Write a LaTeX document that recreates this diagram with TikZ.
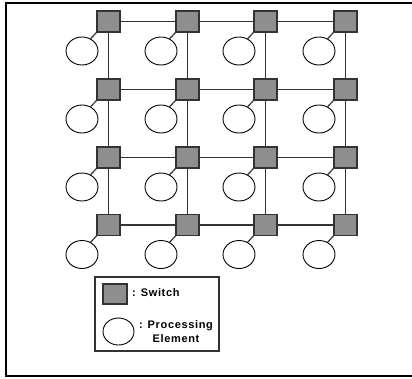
\documentclass[tikz,border=0pt]{standalone}
\usepackage{fontspec}
\setmainfont{Liberation Sans}
\usetikzlibrary{shapes.geometric}
\definecolor{swfill}{HTML}{8E8E8E}
\definecolor{wire}{HTML}{333333}
\begin{document}
\begin{tikzpicture}[x=1pt,y=-1pt,
  switchbox/.style={draw=wire,fill=swfill,line width=1.1pt,minimum width=23pt,minimum height=21pt,inner sep=0pt},
  pe/.style={draw=black,ellipse,line width=0.9pt,minimum width=32pt,minimum height=28pt,inner sep=0pt,fill=white},
  link/.style={draw=wire,line width=1.2pt},
  legtext/.style={font=\fontsize{11}{14}\selectfont\bfseries\addfontfeatures{LetterSpace=6},inner sep=0pt}]
\useasboundingbox (0,0) rectangle (412,378);
% outer frame (left, top, bottom)
\draw[line width=2pt] (412,3) -- (6,3) -- (6,376) -- (412,376);
% switches and processing elements of the 4x4 mesh
\foreach \c/\x in {1/108.5,2/187.5,3/265.5,4/345.5}{
  \foreach \r/\y in {1/21.5,2/89.5,3/157.5,4/225}{
    \node[switchbox] (s\c\r) at (\x,\y) {};
    \node[pe] (p\c\r) at (\x-26.5,\y+29.5) {};
    \draw[link] (p\c\r.55) -- (s\c\r.south west);
  }
}
% mesh links
\foreach \r in {1,2,3,4}{
  \draw[link] (s1\r) -- (s2\r);
  \draw[link] (s2\r) -- (s3\r);
  \draw[link] (s3\r) -- (s4\r);
}
\foreach \c in {1,2,3,4}{
  \draw[link] (s\c1) -- (s\c2);
  \draw[link] (s\c2) -- (s\c3);
  \draw[link] (s\c3) -- (s\c4);
}
% legend
\node[draw=wire,line width=1.2pt,minimum width=124pt,minimum height=74pt,inner sep=0pt] (legend) at (157,314) {};
\node[switchbox,minimum width=24pt,minimum height=20pt] (lsw) at (115,294) {};
\node[pe,minimum width=31pt,minimum height=27pt] (lpe) at (118.5,331.5) {};
\node[legtext,anchor=west] (lswt) at (132,292.5) {: Switch};
\node[legtext,align=center] (lpet) at (176,332) {: Processing\\Element};
\end{tikzpicture}
\end{document}
